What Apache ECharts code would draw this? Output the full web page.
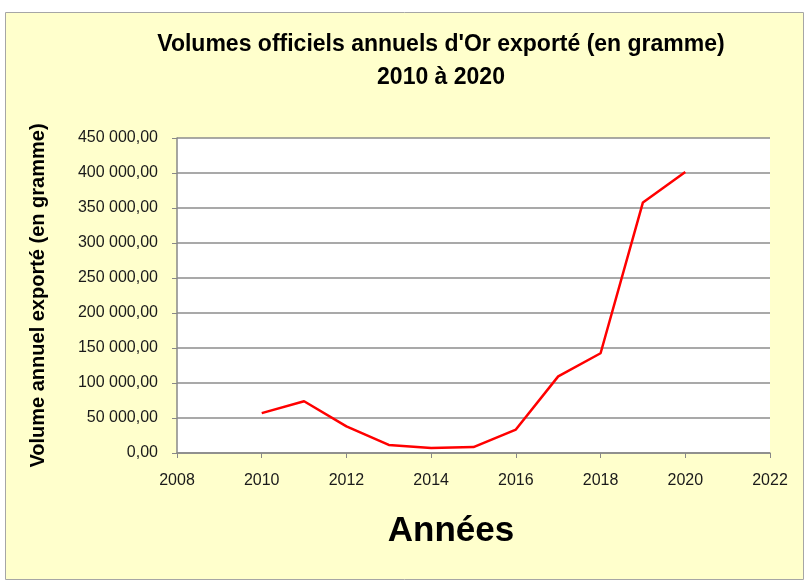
<!DOCTYPE html>
<html><head><meta charset="utf-8">
<script src="https://cdn.jsdelivr.net/npm/echarts@6/dist/echarts.min.js"></script>
<style>html,body{margin:0;padding:0;background:#fff}#c{width:804px;height:581px}</style>
</head><body><div id="c"></div>
<script>
const years = [2010, 2011, 2012, 2013, 2014, 2015, 2016, 2017, 2018, 2019, 2020];
const volumes = [57000, 74000, 38000, 11500, 7000, 8500, 33500, 109500, 142500, 358000, 401500];
const titleLines = ["Volumes officiels annuels d'Or exporté (en gramme)", "2010 à 2020"];
const yTitle = "Volume annuel exporté (en gramme)";
const xTitle = "Années";

const FONT = "'Liberation Sans', sans-serif";
function fmtFr(v) {
  const s = Math.round(v).toString().replace(/\B(?=(\d{3})+(?!\d))/g, ' ');
  return s + ',00';
}
const chart = echarts.init(document.getElementById('c'), null, {renderer: 'canvas'});
chart.setOption({
  animation: false,
  backgroundColor: '#ffffff',
  graphic: [
    {type: 'rect', z: -10, shape: {x: 5.5, y: 12.5, width: 798, height: 567},
     style: {fill: '#FFFFCC', stroke: '#a6a6a6', lineWidth: 1}},
    {type: 'text', x: 441, y: 28, z: 10,
     style: {text: titleLines[0] + '\n' + titleLines[1], fill: '#000', font: "bold 23px " + FONT,
             textAlign: 'center', lineHeight: 33}},
    {type: 'text', x: 451, y: 514, z: 10,
     style: {text: xTitle, fill: '#000', font: "bold 35px " + FONT, textAlign: 'center'}}
  ],
  grid: {left: 177, top: 138, width: 593, height: 315, show: true, backgroundColor: '#ffffff', borderWidth: 0},
  xAxis: {
    type: 'value', min: 2008, max: 2022, interval: 2,
    axisLine: {show: true, lineStyle: {color: '#888888', width: 1.5}},
    axisTick: {show: true, length: 5, lineStyle: {color: '#888888'}},
    axisLabel: {formatter: v => String(v), fontFamily: FONT, fontSize: 16, color: '#1a1a1a', margin: 20},
    splitLine: {show: false}
  },
  yAxis: {
    type: 'value', min: 0, max: 450000, interval: 50000,
    name: yTitle, nameLocation: 'middle', nameGap: 129, nameRotate: 90,
    nameTextStyle: {fontFamily: FONT, fontWeight: 'bold', fontSize: 20, color: '#000'},
    axisLine: {show: true, lineStyle: {color: '#888888', width: 1.5}},
    axisTick: {show: true, length: 5, lineStyle: {color: '#888888'}},
    axisLabel: {formatter: fmtFr, fontFamily: FONT, fontSize: 16, color: '#1a1a1a', margin: 19},
    splitLine: {show: true, lineStyle: {color: '#8c8c8c', width: 1.5}}
  },
  series: [{
    type: 'line', data: years.map((y, i) => [y, volumes[i]]),
    showSymbol: false, symbol: 'none',
    lineStyle: {color: '#ff0000', width: 2.5}
  }]
});
</script></body></html>
